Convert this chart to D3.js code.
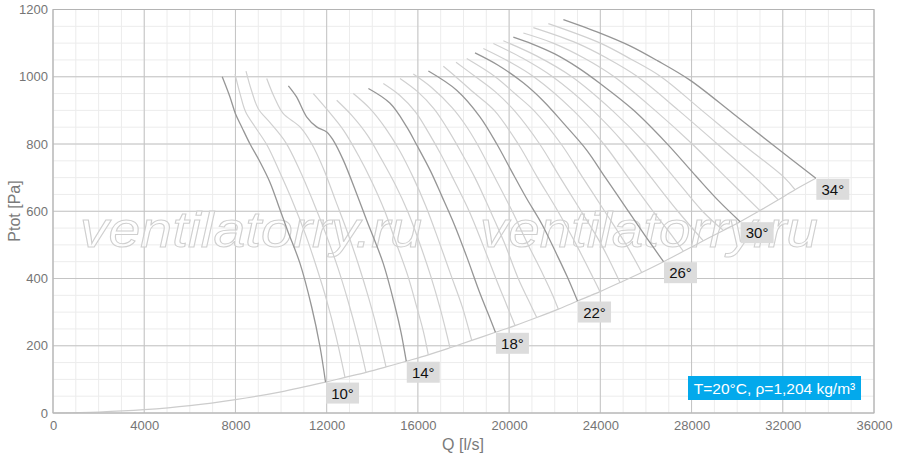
<!DOCTYPE html>
<html><head><meta charset="utf-8">
<script src="https://cdn.jsdelivr.net/npm/d3@7"></script>
<style>
body{margin:0;background:#fff}
svg{display:block}
text{font-family:"Liberation Sans",Arial,Helvetica,sans-serif}
</style>
</head><body>
<svg id="chart" width="900" height="461"></svg>
<script>
// ---- data ----
const xTicks = [0,4000,8000,12000,16000,20000,24000,28000,32000,36000];
const yTicks = [0,200,400,600,800,1000,1200];
const angles = [10,11,12,13,14,15,16,17,18,19,20,21,22,23,24,25,26,27,28,29,30,31,32,33,34];
const mainAngles = [10,14,18,22,26,30,34];

// fan curves: [Q l/s, Ptot Pa]
const c10 = [[7420,1000],[7760,940],[8000,890],[8280,850],[8640,800],[9050,750],[9520,685],[9950,605],[10300,540],[10830,445],[11340,316],[11700,200],[11950,92]];
const c11 = [[7981,1008],[8200,950],[8450,895],[8850,852],[9400,795],[9950,715],[10500,630],[11050,535],[11550,435],[12000,335],[12420,225],[12804,106]];
const c12 = [[8463,1017],[8700,960],[9000,905],[9500,865],[10200,805],[10800,725],[11400,630],[11950,535],[12500,430],[12950,330],[13350,230],[13725,121]];
const c13 = [[9371,995],[9700,940],[10090,891],[10830,851],[11350,800],[11900,720],[12400,630],[12900,540],[13400,440],[13850,340],[14250,240],[14602,137]];
const c14 = [[10320,973],[10680,940],[11120,881],[11560,851],[12000,836],[12290,811],[12730,752],[13310,653],[13750,574],[14480,445],[15000,316],[15260,240],[15490,154]];
const c15 = [[11415,950],[12050,900],[12750,840],[13400,765],[14000,685],[14550,600],[15050,505],[15550,410],[15950,315],[16250,240],[16457,173]];
const c16 = [[12440,930],[13100,885],[13800,825],[14400,755],[15000,680],[15550,600],[16050,510],[16550,410],[17000,305],[17409,194]];
const c17 = [[13168,950],[13900,905],[14600,845],[15200,780],[15800,700],[16350,615],[16900,515],[17450,410],[17950,315],[18360,216]];
const c18 = [[13830,965],[14780,921],[15510,851],[15950,797],[16550,720],[17050,645],[17600,560],[18140,465],[18700,360],[19100,292],[19400,240]];
const c19 = [[14484,980],[15200,945],[15900,895],[16500,830],[17000,770],[17600,690],[18250,600],[18850,500],[19450,395],[19900,320],[20259,260]];
const c20 = [[15216,995],[16000,955],[16700,905],[17300,845],[17900,775],[18500,700],[19150,605],[19800,505],[20400,400],[20850,335],[21211,284]];
const c21 = [[15799,1008],[16600,968],[17500,908],[18100,855],[18600,800],[19300,710],[20100,605],[20800,505],[21500,410],[21900,352],[22158,309]];
const c22 = [[16460,1017],[17700,960],[18720,881],[19460,800],[20100,720],[20750,640],[21450,560],[22100,470],[22550,405],[23000,333]];
const c23 = [[17115,1031],[17660,1000],[18500,950],[19350,900],[20400,800],[21250,700],[22140,600],[22950,500],[23700,400],[23986,361]];
const c24 = [[17672,1043],[18530,1000],[19400,955],[20220,900],[21340,800],[22240,700],[23160,600],[24050,500],[24863,388]];
const c25 = [[18141,1054],[19390,1000],[20250,950],[21080,900],[22280,800],[23230,700],[24190,600],[25140,500],[25814,418]];
const c26 = [[18505,1071],[19500,1035],[20620,982],[21500,928],[22380,862],[23400,782],[24200,702],[25150,608],[26000,524],[26770,450]];
const c27 = [[18869,1084],[20000,1045],[21080,1000],[22810,900],[24150,800],[25230,700],[26310,600],[27000,540],[27639,481]];
const c28 = [[19308,1099],[20600,1055],[21910,1000],[23670,900],[25070,800],[26230,700],[27400,600],[28516,512]];
const c29 = [[19746,1107],[21200,1062],[22750,1000],[24520,900],[26000,800],[27240,700],[28480,600],[29393,543]];
const c30 = [[20185,1118],[21000,1098],[22000,1068],[23000,1028],[23990,980],[25450,901],[26910,802],[28200,704],[29200,630],[30130,569]];
const c31 = [[20623,1130],[21930,1100],[23300,1055],[24610,1000],[26400,900],[28030,800],[29520,700],[31002,602]];
const c32 = [[21062,1146],[22970,1100],[24300,1055],[25640,1000],[27430,900],[29130,800],[30800,700],[31805,634]];
const c33 = [[21719,1158],[24000,1100],[25350,1052],[26660,1000],[28450,900],[30230,800],[32070,700],[32537,664]];
const c34 = [[22380,1170],[23990,1130],[25300,1092],[26500,1048],[27930,990],[29830,890],[31700,790],[33450,698]];
const fanCurves = [c10,c11,c12,c13,c14,c15,c16,c17,c18,c19,c20,c21,c22,c23,c24,c25,c26,c27,c28,c29,c30,c31,c32,c33,c34];

// system curve below the first fan curve end
const systemLow = [[0,0],[2000,3],[4000,10],[6000,22],[8000,40],[10000,63]];

const infoText = "T=20°C, ρ=1,204 kg/m³";
const watermark = "ventilatorry.ru";
const xTitle = "Q [l/s]";
const yTitle = "Ptot [Pa]";

// ---- layout ----
const svg = d3.select("#chart");
const x = d3.scaleLinear().domain([0,36000]).range([53,874]);
const y = d3.scaleLinear().domain([0,1200]).range([413,9.5]);
const [x0,x1] = x.range(), [y0,y1] = y.range();

const grid = svg.append("g");
grid.selectAll(".mx").data(d3.range(0,36001,1000)).join("line")
  .attr("x1",d=>x(d)).attr("x2",d=>x(d)).attr("y1",y0).attr("y2",y1)
  .attr("stroke","#ececec").attr("stroke-width",1);
grid.selectAll(".my").data(d3.range(0,1201,50)).join("line")
  .attr("y1",d=>y(d)).attr("y2",d=>y(d)).attr("x1",x0).attr("x2",x1)
  .attr("stroke","#ececec").attr("stroke-width",1);
grid.selectAll(".Mx").data(xTicks).join("line")
  .attr("x1",d=>x(d)).attr("x2",d=>x(d)).attr("y1",y0).attr("y2",y1)
  .attr("stroke","#c4c4c4").attr("stroke-width",1);
grid.selectAll(".My").data(yTicks).join("line")
  .attr("y1",d=>y(d)).attr("y2",d=>y(d)).attr("x1",x0).attr("x2",x1)
  .attr("stroke","#c4c4c4").attr("stroke-width",1);

// watermark
[[80,422],[480,818]].forEach(([a,b])=>{
  svg.append("text").attr("x",a).attr("y",247)
    .attr("font-size",50).attr("font-style","italic")
    .attr("textLength",b-a).attr("lengthAdjust","spacingAndGlyphs")
    .attr("fill","#fff").attr("fill-opacity",0.6)
    .attr("stroke","#cfcfcf").attr("stroke-width",1)
    .text(watermark);
});

const line = d3.line().x(d=>x(d[0])).y(d=>y(d[1])).curve(d3.curveCatmullRom.alpha(0.5));

// system curve
const systemCurve = systemLow.concat(fanCurves.map(c=>c[c.length-1]));
svg.append("path").attr("d",line(systemCurve)).attr("fill","none")
  .attr("stroke","#cccccc").attr("stroke-width",1.2);

// fan curves
const cg = svg.append("g");
angles.forEach((a,i)=>{
  if(mainAngles.includes(a)) return;
  cg.append("path").attr("d",line(fanCurves[i])).attr("fill","none")
    .attr("stroke","#d0d0d0").attr("stroke-width",1.2);
});
angles.forEach((a,i)=>{
  if(!mainAngles.includes(a)) return;
  cg.append("path").attr("d",line(fanCurves[i])).attr("fill","none")
    .attr("stroke","#969696").attr("stroke-width",1.3);
});

// border
svg.append("rect").attr("x",x0).attr("y",y1).attr("width",x1-x0).attr("height",y0-y1)
  .attr("fill","none").attr("stroke","#b4b4b4").attr("stroke-width",1);

// axes
const xa = svg.append("g").attr("transform",`translate(0,${y0})`)
  .call(d3.axisBottom(x).tickValues(xTicks).tickSize(0).tickPadding(8).tickFormat(d3.format("d")));
const ya = svg.append("g").attr("transform",`translate(${x0},0)`)
  .call(d3.axisLeft(y).tickValues(yTicks).tickSize(0).tickPadding(5).tickFormat(d3.format("d")));
[xa,ya].forEach(g=>{
  g.select(".domain").remove();
  g.selectAll("text").attr("font-size",13).attr("fill","#757575")
    .attr("font-family","'Liberation Sans',Arial,sans-serif");
});

svg.append("text").attr("x",463).attr("y",450).attr("text-anchor","middle")
  .attr("font-size",16).attr("fill","#7a7a7a").text(xTitle);
svg.append("text").attr("transform","translate(20,211) rotate(-90)").attr("text-anchor","middle")
  .attr("font-size",16).attr("fill","#7a7a7a").text(yTitle);

// angle labels
angles.forEach((a,i)=>{
  if(!mainAngles.includes(a)) return;
  const e = fanCurves[i][fanCurves[i].length-1];
  const bx = x(e[0])+0.5, by = y(e[1])+0.5;
  svg.append("rect").attr("x",bx).attr("y",by).attr("width",33).attr("height",21).attr("fill","#dcdcdc");
  svg.append("text").attr("x",bx+16.5).attr("y",by+16).attr("text-anchor","middle")
    .attr("font-size",15).attr("fill","#111").text(a+"°");
});

// info box
svg.append("rect").attr("x",688).attr("y",376).attr("width",173).attr("height",24).attr("fill","#03a9ec");
svg.append("text").attr("x",774.5).attr("y",393.5).attr("text-anchor","middle")
  .attr("font-size",15.5).attr("fill","#fff").text(infoText);
</script>
</body></html>
